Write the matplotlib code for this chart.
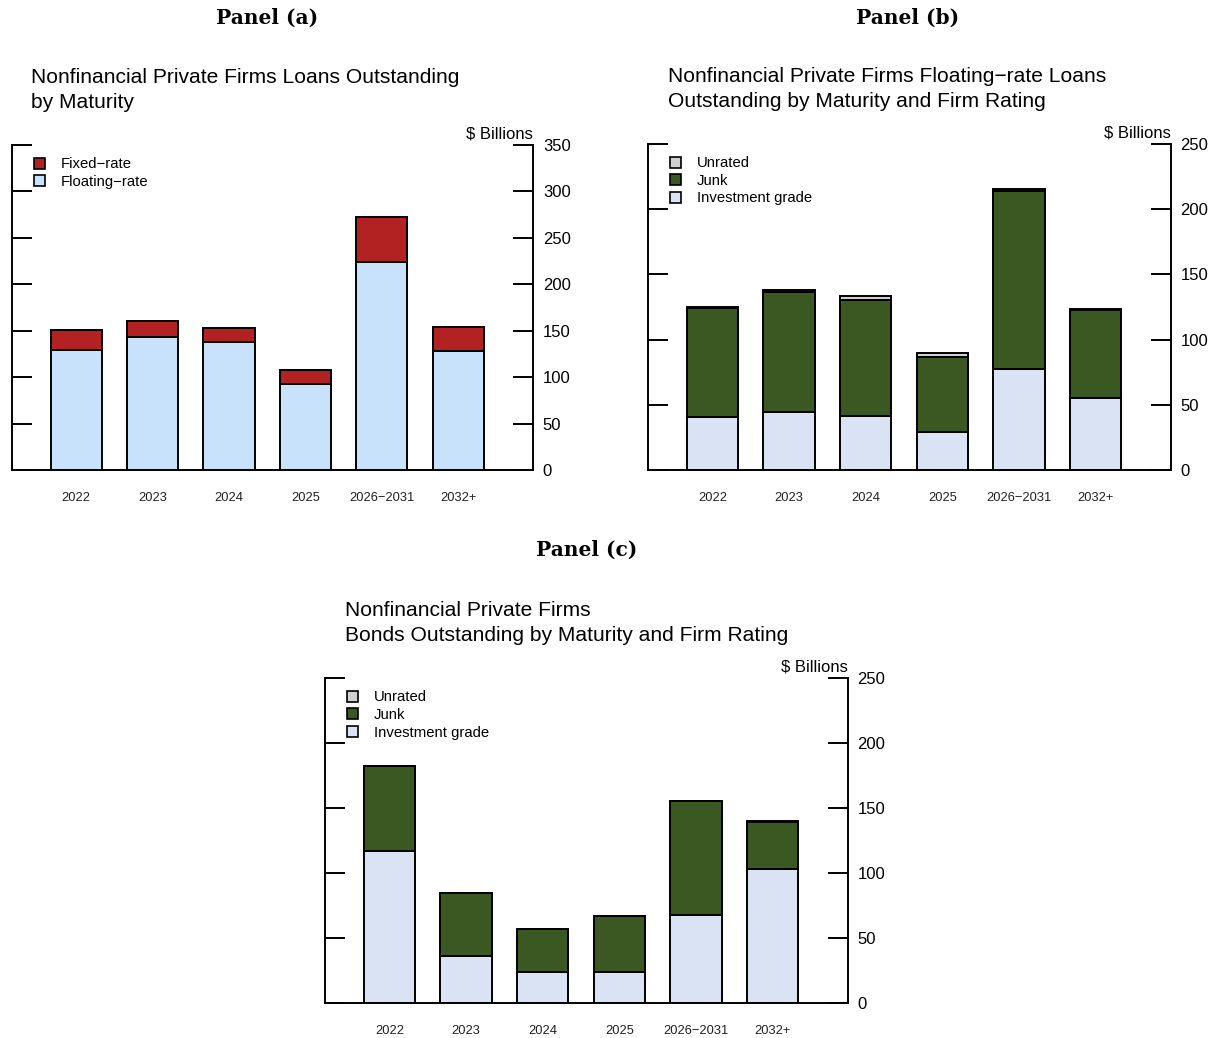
import matplotlib
matplotlib.use("Agg")
import matplotlib.pyplot as plt
from matplotlib.patches import Patch
import numpy as np

plt.rcParams["font.family"] = ["Liberation Sans", "DejaVu Sans"]

maturities = ["2022", "2023", "2024", "2025", "2026\u22122031", "2032+"]

# Panel (a): loans by rate type, $ billions
loans_floating = [129.6, 142.9, 137.8, 92.6, 224.3, 128.5]
loans_fixed = [21.5, 17.2, 14.7, 15.4, 48.1, 25.8]

# Panel (b): floating-rate loans by firm rating, $ billions
fl_investment = [40.4, 44.7, 41.7, 28.9, 77.7, 55.0]
fl_junk = [83.6, 91.5, 88.7, 58.0, 136.0, 68.0]
fl_unrated = [1.0, 1.8, 2.8, 3.1, 1.8, 0.7]

# Panel (c): bonds by firm rating, $ billions
bd_investment = [116.9, 36.5, 23.9, 23.9, 67.6, 103.0]
bd_junk = [65.5, 48.0, 32.9, 42.9, 87.8, 36.0]
bd_unrated = [0.3, 0.2, 0.2, 0.2, 0.3, 1.0]

RED = "#B22222"
SKY = "#C9E2FB"
GREEN = "#3B5823"
PALE = "#DAE3F3"
GRAY = "#D0D0D0"


def style_axes(ax, ymax, step):
    x = np.arange(len(maturities))
    ax.set_xlim(-0.84, 5.98)
    ax.set_ylim(0, ymax)
    ax.spines["top"].set_visible(False)
    for side in ("left", "right", "bottom"):
        ax.spines[side].set_linewidth(1.4)
    ax.yaxis.set_ticks_position("both")
    ax.set_yticks(np.arange(0, ymax + 1, step))
    ax.tick_params(axis="y", direction="in", length=14.5, width=1.4,
                   labelleft=False, labelright=True, labelsize=12, pad=7)
    ax.set_xticks(x, maturities)
    ax.tick_params(axis="x", length=0, labelsize=9.3, pad=16, labelcolor="#222222")
    ax.text(1.0, 1.012, "$ Billions", transform=ax.transAxes, ha="right",
            va="bottom", fontsize=12)
    return x


def stacked(ax, x, layers, colors):
    bottom = np.zeros(len(x))
    for vals, col in zip(layers, colors):
        ax.bar(x, vals, width=0.67, bottom=bottom, color=col,
               edgecolor="black", linewidth=1.4)
        bottom += np.array(vals)


def add_legend(ax, labels, colors):
    handles = [Patch(facecolor=c, edgecolor="black", linewidth=1.2) for c in colors]
    ax.legend(handles, labels, loc="upper left", bbox_to_anchor=(0.042, 0.962),
              frameon=False, fontsize=10.7, handlelength=0.75, handleheight=0.75,
              handletextpad=1.05, labelspacing=0.24, borderpad=0, borderaxespad=0)


fig = plt.figure(figsize=(12.2, 10.38), dpi=100)

ax_a = fig.add_axes([0.0098, 0.5472, 0.4272, 0.3131])
ax_b = fig.add_axes([0.5312, 0.5472, 0.4285, 0.3141])
ax_c = fig.add_axes([0.2664, 0.0337, 0.4285, 0.3131])

# Panel (a)
x = style_axes(ax_a, 350, 50)
stacked(ax_a, x, [loans_floating, loans_fixed], [SKY, RED])
add_legend(ax_a, ["Fixed\u2212rate", "Floating\u2212rate"], [RED, SKY])

# Panel (b)
x = style_axes(ax_b, 250, 50)
stacked(ax_b, x, [fl_investment, fl_junk, fl_unrated], [PALE, GREEN, GRAY])
add_legend(ax_b, ["Unrated", "Junk", "Investment grade"], [GRAY, GREEN, PALE])

# Panel (c)
x = style_axes(ax_c, 250, 50)
stacked(ax_c, x, [bd_investment, bd_junk, bd_unrated], [PALE, GREEN, GRAY])
add_legend(ax_c, ["Unrated", "Junk", "Investment grade"], [GRAY, GREEN, PALE])

# Panel headings and chart titles
head = dict(family="DejaVu Serif", fontweight="bold", fontsize=14.5,
            ha="center", va="center")
fig.text(267 / 1220, 1 - 18 / 1038, "Panel (a)", **head)
fig.text(908 / 1220, 1 - 18 / 1038, "Panel (b)", **head)
fig.text(587 / 1220, 1 - 550 / 1038, "Panel (c)", **head)

title = dict(fontsize=15.1, ha="left", va="top", linespacing=1.4)
fig.text(31 / 1220, 1 - 68 / 1038,
         "Nonfinancial Private Firms Loans Outstanding\nby Maturity", **title)
fig.text(668 / 1220, 1 - 67 / 1038,
         "Nonfinancial Private Firms Floating\u2212rate Loans\n"
         "Outstanding by Maturity and Firm Rating", **title)
fig.text(345 / 1220, 1 - 601 / 1038,
         "Nonfinancial Private Firms\nBonds Outstanding by Maturity and Firm Rating",
         **title)

fig.savefig("out.png", dpi=100)
